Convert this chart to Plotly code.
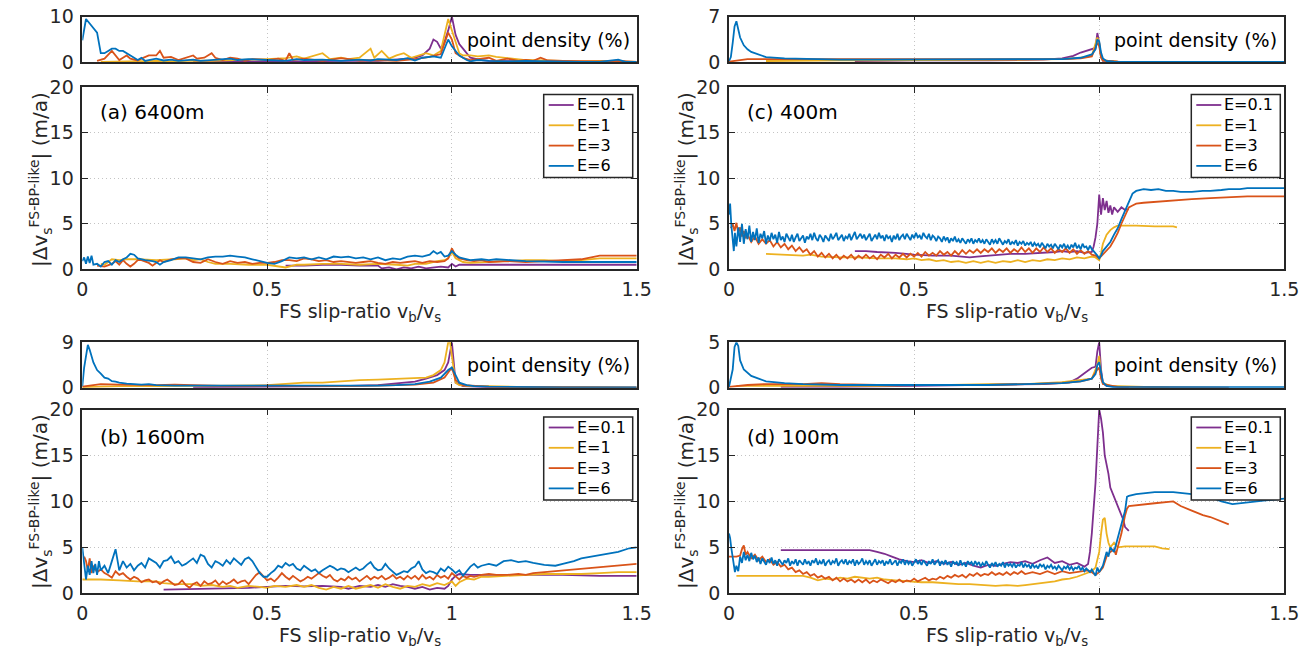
import plotly.graph_objects as go

# ---------------- data: (slip-ratio, value) pairs ----------------
# Panel (a) 6400m, main
a_E01 = [(0.55,0.4),(0.6,0.4),(0.65,0.5),(0.7,0.5),(0.75,0.4),(0.8,0.4),(0.81,0.1),(0.83,0.2),(0.85,0.0),(0.87,0.2),(0.89,0.1),(0.91,0.3),(0.93,0.1),(0.95,0.2),(0.97,0.3),(0.99,0.2),(1.0,0.6),(1.01,0.3),(1.02,0.5),(1.05,0.5),(1.1,0.5),(1.2,0.5),(1.3,0.5),(1.4,0.5),(1.5,0.5)]
a_E1 = [(0.05,0.6),(0.06,0.5),(0.07,0.8),(0.08,1.1),(0.1,1.0),(0.12,1.1),(0.15,1.1),(0.2,1.0),(0.25,1.1),(0.28,1.2),(0.3,1.0),(0.32,1.1),(0.34,0.8),(0.36,0.6),(0.4,0.6),(0.45,0.5),(0.5,0.5),(0.52,0.4),(0.55,0.2),(0.58,0.5),(0.6,0.5),(0.65,0.6),(0.7,0.6),(0.75,0.5),(0.8,0.6),(0.85,0.5),(0.88,0.4),(0.9,0.6),(0.93,0.6),(0.96,0.9),(0.98,1.0),(0.99,1.2),(1.0,1.9),(1.01,1.2),(1.03,0.8),(1.05,0.7),(1.1,0.8),(1.15,0.9),(1.2,1.0),(1.25,1.0),(1.3,0.9),(1.35,1.0),(1.4,1.2),(1.45,1.2),(1.5,1.2)]
a_E3 = [(0.04,0.4),(0.06,0.3),(0.08,0.6),(0.09,0.9),(0.1,0.5),(0.11,1.0),(0.12,0.6),(0.13,0.3),(0.14,0.6),(0.15,1.0),(0.16,1.0),(0.18,0.7),(0.19,0.4),(0.2,0.7),(0.21,1.0),(0.22,0.8),(0.24,1.1),(0.26,1.2),(0.28,1.2),(0.3,0.8),(0.32,0.7),(0.34,1.1),(0.36,0.8),(0.38,0.6),(0.4,0.9),(0.42,0.7),(0.44,0.8),(0.46,0.6),(0.48,0.7),(0.5,0.7),(0.52,0.8),(0.54,1.0),(0.56,1.0),(0.58,0.9),(0.6,1.2),(0.62,1.1),(0.64,0.9),(0.66,1.0),(0.68,0.8),(0.7,0.9),(0.72,0.8),(0.74,0.7),(0.76,0.8),(0.78,0.9),(0.8,0.7),(0.82,0.6),(0.84,0.8),(0.86,0.7),(0.88,0.8),(0.9,0.9),(0.92,0.7),(0.94,0.9),(0.96,0.8),(0.98,0.9),(0.99,1.2),(1.0,2.3),(1.01,1.5),(1.02,1.2),(1.04,1.0),(1.06,0.9),(1.08,1.0),(1.1,0.8),(1.15,0.9),(1.2,0.8),(1.25,0.9),(1.3,1.0),(1.35,1.1),(1.4,1.5),(1.45,1.5),(1.5,1.5)]
a_E6 = [(0.0,0.9),(0.005,1.3),(0.01,0.6),(0.015,1.4),(0.02,0.7),(0.025,1.5),(0.03,0.5),(0.04,0.6),(0.05,0.3),(0.06,0.8),(0.07,0.9),(0.08,0.5),(0.09,1.0),(0.1,0.8),(0.11,1.1),(0.12,1.3),(0.13,1.7),(0.14,1.6),(0.15,1.2),(0.17,1.0),(0.19,0.9),(0.2,0.8),(0.21,0.5),(0.22,0.8),(0.24,1.0),(0.26,1.3),(0.28,1.3),(0.3,1.2),(0.32,1.1),(0.34,1.3),(0.36,1.4),(0.38,1.4),(0.4,1.5),(0.42,1.4),(0.44,1.3),(0.46,1.1),(0.48,0.9),(0.5,0.7),(0.52,0.6),(0.54,0.9),(0.56,1.3),(0.58,1.2),(0.6,1.3),(0.62,1.1),(0.64,1.3),(0.66,1.1),(0.68,1.4),(0.7,1.3),(0.72,1.4),(0.74,1.2),(0.76,1.3),(0.78,1.1),(0.8,1.3),(0.82,1.0),(0.84,1.2),(0.86,1.1),(0.88,1.4),(0.9,1.5),(0.92,1.4),(0.94,1.6),(0.95,2.0),(0.96,1.7),(0.97,1.9),(0.98,1.4),(0.99,1.5),(1.0,2.0),(1.01,1.6),(1.02,1.3),(1.03,1.2),(1.05,1.0),(1.08,1.1),(1.1,1.0),(1.12,1.1),(1.15,1.0),(1.2,0.9),(1.3,0.8),(1.4,0.8),(1.5,0.8)]
# Panel (a) point density (%)
a_d_E01 = [(0.3,0.1),(0.5,0.1),(0.6,0.2),(0.7,0.3),(0.8,0.3),(0.88,0.8),(0.9,1.0),(0.92,1.5),(0.94,3.0),(0.95,5.0),(0.96,4.5),(0.97,3.0),(0.98,4.5),(0.99,7.0),(1.0,10.0),(1.01,6.0),(1.02,4.0),(1.03,3.0),(1.05,1.0),(1.08,0.5),(1.1,0.3),(1.2,0.2),(1.3,0.1),(1.5,0.1)]
a_d_E1 = [(0.05,0.1),(0.1,0.2),(0.15,0.2),(0.2,0.3),(0.25,0.2),(0.3,0.4),(0.35,0.3),(0.4,0.4),(0.45,0.5),(0.5,0.7),(0.55,0.9),(0.58,1.3),(0.6,0.8),(0.62,1.3),(0.65,2.0),(0.67,0.7),(0.7,1.0),(0.72,0.7),(0.75,1.0),(0.78,3.0),(0.79,1.0),(0.81,2.5),(0.83,0.8),(0.85,1.5),(0.87,2.0),(0.89,1.0),(0.91,1.5),(0.93,2.0),(0.95,1.5),(0.97,2.5),(0.99,9.5),(1.0,7.0),(1.01,4.0),(1.02,2.0),(1.03,1.5),(1.05,1.5),(1.07,1.3),(1.1,1.5),(1.12,1.2),(1.14,1.0),(1.16,0.8),(1.2,0.5),(1.25,0.4),(1.3,0.3),(1.35,0.2),(1.4,0.3),(1.45,0.2),(1.5,0.1)]
a_d_E3 = [(0.04,0.3),(0.06,0.8),(0.08,2.5),(0.09,1.5),(0.1,0.5),(0.11,1.0),(0.12,1.5),(0.13,0.8),(0.15,0.4),(0.16,0.8),(0.18,1.5),(0.2,1.5),(0.21,2.5),(0.22,1.0),(0.24,1.2),(0.26,0.5),(0.28,1.0),(0.3,1.5),(0.31,0.8),(0.33,1.0),(0.35,2.0),(0.36,1.0),(0.38,0.5),(0.4,1.0),(0.42,0.8),(0.44,0.3),(0.46,0.7),(0.5,0.5),(0.53,0.8),(0.55,0.3),(0.56,2.0),(0.57,0.5),(0.6,0.8),(0.65,0.3),(0.7,0.9),(0.75,0.4),(0.8,0.5),(0.85,0.3),(0.9,0.7),(0.94,1.2),(0.97,1.8),(0.99,6.5),(1.0,5.0),(1.01,2.0),(1.03,1.0),(1.05,0.5),(1.1,1.0),(1.12,0.3),(1.15,0.8),(1.18,0.3),(1.2,0.5),(1.22,0.3),(1.24,1.0),(1.26,0.4),(1.3,0.3),(1.35,0.2),(1.4,0.2),(1.45,0.3),(1.5,0.1)]
a_d_E6 = [(0.0,4.8),(0.01,9.5),(0.02,8.5),(0.03,7.5),(0.04,6.5),(0.05,2.0),(0.06,2.0),(0.07,2.5),(0.08,3.0),(0.09,3.0),(0.1,2.5),(0.11,2.5),(0.12,2.0),(0.13,1.5),(0.14,1.0),(0.15,0.5),(0.16,1.0),(0.17,0.3),(0.18,0.5),(0.2,0.8),(0.22,0.4),(0.24,0.6),(0.26,0.3),(0.28,0.5),(0.3,0.6),(0.32,0.3),(0.35,0.5),(0.4,0.8),(0.42,0.5),(0.45,0.7),(0.5,0.5),(0.55,0.3),(0.58,0.7),(0.6,0.5),(0.65,0.6),(0.7,0.3),(0.75,0.6),(0.78,0.4),(0.8,0.7),(0.85,0.5),(0.88,0.9),(0.9,0.4),(0.92,1.0),(0.95,1.3),(0.97,1.0),(0.99,5.0),(1.0,3.5),(1.01,2.5),(1.02,1.5),(1.03,1.0),(1.04,0.5),(1.05,0.2),(1.07,0.5),(1.1,0.3),(1.15,0.2),(1.2,0.3),(1.25,0.2),(1.3,0.2),(1.35,0.1),(1.4,0.1),(1.45,0.6),(1.47,0.1),(1.5,0.1)]

# Panel (b) 1600m, main
b_E01 = [(0.22,0.4),(0.3,0.45),(0.35,0.5),(0.4,0.55),(0.45,0.6),(0.5,0.7),(0.55,0.8),(0.6,0.75),(0.65,0.8),(0.7,0.7),(0.72,0.5),(0.75,0.8),(0.78,0.7),(0.8,0.9),(0.82,0.7),(0.84,1.0),(0.86,0.8),(0.88,0.7),(0.9,0.5),(0.92,0.7),(0.94,0.4),(0.96,0.6),(0.98,0.5),(0.99,0.8),(1.0,1.5),(1.01,1.9),(1.02,2.1),(1.05,2.0),(1.08,2.0),(1.1,2.0),(1.15,2.0),(1.2,2.0),(1.3,2.0),(1.4,1.9),(1.5,1.9)]
b_E1 = [(0.0,1.5),(0.05,1.5),(0.1,1.4),(0.15,1.3),(0.2,1.3),(0.22,1.1),(0.25,1.0),(0.3,1.0),(0.32,0.8),(0.35,0.9),(0.38,0.7),(0.4,0.8),(0.42,0.6),(0.45,0.8),(0.48,0.7),(0.5,0.6),(0.52,0.8),(0.55,0.7),(0.58,0.9),(0.6,0.7),(0.62,0.9),(0.64,0.6),(0.66,0.4),(0.68,0.7),(0.7,0.5),(0.72,0.8),(0.74,0.5),(0.76,0.7),(0.78,0.9),(0.8,0.6),(0.82,1.0),(0.84,0.7),(0.86,0.5),(0.88,0.8),(0.9,0.7),(0.92,1.0),(0.94,0.8),(0.96,1.1),(0.98,0.9),(1.0,1.3),(1.01,0.8),(1.02,1.2),(1.04,1.6),(1.06,1.5),(1.08,1.8),(1.1,1.8),(1.15,1.9),(1.2,2.0),(1.25,2.1),(1.3,2.1),(1.35,2.1),(1.4,2.2),(1.45,2.3),(1.5,2.3)]
b_E3 = [(0.005,4.0),(0.01,3.5),(0.015,2.5),(0.02,3.8),(0.025,2.2),(0.03,3.0),(0.04,2.3),(0.05,2.6),(0.06,2.2),(0.07,2.0),(0.08,1.7),(0.09,2.4),(0.1,2.0),(0.11,2.2),(0.12,1.8),(0.13,1.5),(0.14,1.8),(0.15,1.6),(0.16,1.2),(0.17,1.4),(0.18,1.5),(0.19,1.2),(0.2,1.3),(0.21,1.0),(0.22,1.3),(0.23,1.5),(0.24,1.2),(0.25,0.9),(0.26,1.0),(0.27,1.4),(0.28,0.9),(0.29,0.6),(0.3,1.0),(0.31,1.2),(0.32,0.8),(0.33,1.3),(0.34,1.0),(0.35,1.1),(0.36,1.4),(0.37,0.9),(0.38,1.3),(0.39,1.0),(0.4,1.2),(0.41,1.5),(0.42,1.1),(0.43,1.3),(0.44,1.4),(0.45,1.0),(0.46,1.5),(0.47,2.0),(0.48,2.3),(0.49,1.8),(0.5,1.4),(0.51,1.6),(0.52,1.3),(0.53,1.7),(0.54,2.2),(0.55,1.8),(0.56,1.5),(0.57,1.9),(0.58,1.6),(0.59,1.3),(0.6,1.5),(0.61,1.8),(0.62,1.6),(0.63,1.9),(0.64,2.2),(0.65,1.9),(0.66,1.7),(0.67,2.0),(0.68,1.5),(0.69,1.3),(0.7,1.6),(0.71,1.4),(0.72,1.8),(0.73,1.5),(0.74,1.7),(0.75,1.3),(0.76,1.6),(0.77,1.9),(0.78,1.5),(0.79,1.8),(0.8,1.6),(0.81,1.9),(0.82,1.5),(0.83,1.7),(0.84,2.0),(0.85,1.6),(0.86,1.8),(0.87,1.5),(0.88,1.9),(0.89,1.6),(0.9,1.9),(0.91,1.5),(0.92,2.0),(0.93,1.6),(0.94,1.8),(0.95,1.5),(0.96,2.0),(0.97,1.7),(0.98,1.9),(0.99,1.6),(1.0,2.2),(1.01,1.8),(1.02,1.5),(1.03,1.9),(1.04,1.7),(1.05,1.9),(1.06,1.8),(1.08,2.0),(1.1,2.1),(1.12,2.0),(1.15,2.0),(1.18,2.1),(1.2,2.0),(1.22,2.2),(1.25,2.3),(1.28,2.4),(1.3,2.5),(1.35,2.7),(1.4,2.8),(1.45,3.0),(1.5,3.2)]
b_E6 = [(0.0,5.0),(0.005,3.5),(0.01,1.5),(0.015,3.0),(0.02,2.0),(0.025,3.5),(0.03,2.2),(0.035,3.2),(0.04,2.0),(0.045,3.5),(0.05,2.5),(0.06,3.0),(0.07,2.2),(0.08,3.5),(0.09,4.8),(0.1,2.5),(0.11,3.5),(0.12,2.8),(0.13,3.2),(0.14,2.5),(0.15,3.0),(0.16,3.3),(0.17,2.8),(0.18,3.8),(0.19,3.5),(0.2,3.3),(0.21,2.8),(0.22,3.5),(0.23,3.6),(0.24,4.0),(0.25,3.3),(0.26,3.5),(0.27,3.0),(0.28,3.2),(0.29,3.5),(0.3,3.8),(0.31,3.3),(0.32,4.2),(0.33,4.0),(0.34,3.2),(0.35,2.8),(0.36,3.5),(0.37,3.3),(0.38,3.0),(0.39,3.6),(0.4,3.2),(0.41,3.8),(0.42,3.4),(0.43,3.1),(0.44,3.7),(0.45,3.9),(0.46,3.5),(0.47,2.8),(0.48,2.2),(0.49,1.8),(0.5,1.8),(0.51,2.2),(0.52,2.5),(0.53,3.0),(0.54,2.8),(0.55,3.3),(0.56,3.0),(0.57,3.2),(0.58,2.7),(0.59,2.5),(0.6,3.0),(0.61,2.7),(0.62,2.4),(0.63,2.6),(0.64,2.2),(0.65,2.5),(0.66,2.8),(0.67,3.0),(0.68,2.8),(0.69,2.5),(0.7,2.7),(0.71,2.6),(0.72,2.3),(0.73,2.6),(0.74,2.8),(0.75,2.5),(0.76,2.7),(0.77,3.1),(0.78,3.4),(0.79,2.8),(0.8,2.5),(0.81,2.6),(0.82,3.2),(0.83,2.7),(0.84,2.4),(0.85,2.0),(0.86,2.2),(0.87,2.4),(0.88,2.3),(0.89,2.7),(0.9,2.9),(0.91,3.5),(0.92,2.6),(0.93,2.2),(0.94,2.4),(0.95,2.3),(0.96,2.1),(0.97,2.7),(0.98,2.4),(0.99,2.9),(1.0,2.6),(1.01,2.2),(1.02,2.5),(1.03,1.9),(1.04,2.4),(1.05,2.9),(1.06,3.2),(1.07,2.8),(1.08,3.0),(1.1,3.2),(1.12,3.0),(1.14,3.5),(1.16,3.6),(1.18,3.4),(1.2,3.5),(1.22,3.3),(1.25,3.1),(1.28,3.0),(1.3,3.2),(1.33,3.5),(1.35,3.8),(1.38,4.0),(1.4,4.2),(1.42,4.3),(1.45,4.5),(1.48,4.9),(1.5,5.0)]
# Panel (b) point density (%)
b_d_E01 = [(0.3,0.1),(0.5,0.2),(0.7,0.3),(0.8,0.5),(0.85,0.8),(0.9,1.2),(0.93,1.8),(0.96,2.5),(0.98,3.5),(0.99,5.0),(1.0,9.0),(1.005,5.0),(1.01,1.0),(1.03,0.3),(1.1,0.1),(1.5,0.0)]
b_d_E1 = [(0.0,0.1),(0.1,0.3),(0.2,0.3),(0.3,0.3),(0.4,0.4),(0.5,0.5),(0.55,0.8),(0.6,1.0),(0.65,1.0),(0.7,1.3),(0.75,1.5),(0.8,1.6),(0.85,1.8),(0.9,2.0),(0.93,2.0),(0.95,2.5),(0.97,3.5),(0.98,5.0),(0.99,9.0),(0.995,9.0),(1.0,6.0),(1.01,1.0),(1.02,0.5),(1.05,0.3),(1.1,0.3),(1.2,0.1),(1.5,0.0)]
b_d_E3 = [(0.0,0.2),(0.03,0.5),(0.05,0.7),(0.1,0.6),(0.15,0.5),(0.2,0.5),(0.25,0.6),(0.3,0.5),(0.35,0.4),(0.4,0.3),(0.5,0.4),(0.6,0.3),(0.7,0.3),(0.8,0.4),(0.9,0.6),(0.95,1.0),(0.98,2.0),(1.0,4.0),(1.01,1.5),(1.03,0.5),(1.1,0.2),(1.2,0.1),(1.5,0.0)]
b_d_E6 = [(0.0,0.3),(0.005,4.0),(0.015,8.5),(0.02,7.5),(0.03,5.0),(0.04,3.5),(0.05,2.8),(0.06,2.0),(0.07,1.8),(0.08,1.3),(0.09,1.2),(0.1,1.0),(0.12,0.8),(0.14,0.7),(0.16,0.6),(0.18,0.7),(0.2,0.5),(0.25,0.4),(0.3,0.4),(0.35,0.3),(0.4,0.3),(0.5,0.3),(0.6,0.3),(0.7,0.3),(0.8,0.4),(0.85,0.5),(0.9,0.7),(0.94,1.2),(0.97,2.0),(0.99,3.5),(1.0,4.0),(1.01,2.5),(1.02,1.0),(1.04,0.5),(1.06,0.3),(1.1,0.2),(1.2,0.1),(1.3,0.05),(1.5,0.05)]

# Panel (c) 400m, main
c_E01 = [(0.34,2.0),(0.37,2.0),(0.4,1.9),(0.45,1.8),(0.5,1.6),(0.55,1.5),(0.6,1.5),(0.63,1.4),(0.65,1.3),(0.67,1.4),(0.7,1.5),(0.73,1.6),(0.76,1.7),(0.8,1.7),(0.85,1.8),(0.88,1.9),(0.9,2.0),(0.92,1.9),(0.94,2.0),(0.96,1.8),(0.98,1.9),(0.985,2.5),(0.99,3.5),(0.995,5.0),(1.0,8.2),(1.005,6.0),(1.01,7.8),(1.015,6.5),(1.02,7.5),(1.025,6.2),(1.03,7.0),(1.035,6.0),(1.04,6.8),(1.05,6.3),(1.06,6.8),(1.07,6.5),(1.08,6.6)]
c_E1 = [(0.1,1.7),(0.15,1.6),(0.2,1.5),(0.22,1.6),(0.25,1.4),(0.3,1.3),(0.35,1.3),(0.4,1.2),(0.45,1.2),(0.48,1.1),(0.5,1.2),(0.52,1.0),(0.54,1.1),(0.56,0.9),(0.58,1.0),(0.6,0.8),(0.62,0.9),(0.64,0.7),(0.66,0.9),(0.68,0.7),(0.7,0.9),(0.72,0.7),(0.74,0.9),(0.76,0.8),(0.78,1.0),(0.8,0.8),(0.82,1.0),(0.84,0.9),(0.86,1.1),(0.88,1.0),(0.9,1.2),(0.92,1.1),(0.94,1.3),(0.96,1.2),(0.98,1.4),(0.99,1.3),(1.0,1.0),(1.005,1.8),(1.01,2.8),(1.02,3.8),(1.03,4.3),(1.04,4.6),(1.05,4.8),(1.07,4.8),(1.1,4.8),(1.15,4.7),(1.2,4.7),(1.21,4.6)]
c_E3 = [(0.005,4.5),(0.01,5.0),(0.015,4.2),(0.02,5.1),(0.025,4.0),(0.03,4.6),(0.035,3.6),(0.04,4.2),(0.045,3.4),(0.05,3.8),(0.06,3.0),(0.07,3.6),(0.08,2.8),(0.09,3.3),(0.1,2.8),(0.11,3.2),(0.12,2.5),(0.13,3.0),(0.14,2.4),(0.15,2.8),(0.16,2.2),(0.17,2.6),(0.18,2.0),(0.19,2.4),(0.2,1.9),(0.21,2.2),(0.22,1.6),(0.23,2.0),(0.24,1.4),(0.25,1.8),(0.26,1.3),(0.27,1.7),(0.28,1.2),(0.29,1.6),(0.3,1.1),(0.31,1.5),(0.32,1.2),(0.33,1.6),(0.34,1.1),(0.35,1.5),(0.36,1.2),(0.37,1.6),(0.38,1.2),(0.39,1.5),(0.4,1.1),(0.41,1.6),(0.42,1.3),(0.43,1.7),(0.44,1.2),(0.45,1.6),(0.46,1.3),(0.47,1.7),(0.48,1.3),(0.49,1.7),(0.5,1.4),(0.51,1.8),(0.52,1.4),(0.53,1.9),(0.54,1.5),(0.55,1.8),(0.56,1.5),(0.57,2.0),(0.58,1.6),(0.59,1.9),(0.6,1.5),(0.61,2.0),(0.62,1.6),(0.63,2.1),(0.64,1.7),(0.65,2.1),(0.66,1.8),(0.67,2.2),(0.68,1.8),(0.69,2.2),(0.7,1.9),(0.71,2.3),(0.72,1.8),(0.73,2.2),(0.74,1.9),(0.75,2.3),(0.76,1.8),(0.77,2.2),(0.78,1.9),(0.79,2.4),(0.8,1.9),(0.81,2.3),(0.82,1.8),(0.83,2.3),(0.84,1.9),(0.85,2.4),(0.86,1.9),(0.87,2.3),(0.88,1.8),(0.89,2.2),(0.9,1.9),(0.91,2.3),(0.92,1.8),(0.93,2.2),(0.94,1.7),(0.95,2.1),(0.96,1.7),(0.97,2.0),(0.98,1.6),(0.99,1.5),(1.0,1.2),(1.01,1.6),(1.02,2.0),(1.03,2.5),(1.04,3.2),(1.05,4.0),(1.06,5.0),(1.07,6.0),(1.08,6.8),(1.09,7.0),(1.1,7.2),(1.12,7.3),(1.15,7.4),(1.2,7.6),(1.25,7.7),(1.3,7.8),(1.35,7.9),(1.4,8.0),(1.45,8.0),(1.5,8.0)]
# E=6 in (c): start, dense noisy section sampled every 0.005 from 0.02 to 0.98, then the rise
c_E6_start = [(0.0,6.0),(0.003,7.2),(0.006,5.0),(0.01,3.0),(0.013,2.0),(0.016,4.0)]
c_E6_dense = [2.5,4.6,3.0,5.0,2.8,4.4,3.3,4.8,3.0,4.1, 3.2,4.5,2.9,3.9,3.4,4.2,2.8,3.7,3.1,4.0,
              3.3,3.8,2.9,4.1,3.2,3.6,3.0,3.9,3.4,3.1, 3.8,3.0,3.5,3.9,3.1,3.4,3.7,2.9,3.6,3.3,
              3.9,3.2,4.0,3.4,3.1,3.8,3.5,3.0,3.7,3.4, 3.1,3.9,3.3,3.6,4.0,3.2,3.5,3.8,3.1,3.6,
              3.4,3.9,3.2,3.7,4.1,3.3,3.6,3.9,3.4,3.8, 3.2,3.6,3.9,3.1,3.5,3.8,3.3,4.0,3.4,3.7,
              3.1,3.8,3.4,3.6,3.0,3.7,3.3,3.9,3.2,3.6, 3.8,3.3,3.9,3.5,3.2,3.8,3.4,4.0,3.5,3.7,
              3.3,4.0,3.6,3.4,3.9,3.2,3.7,3.5,3.1,3.6, 3.4,3.0,3.6,3.2,3.5,2.9,3.4,3.1,3.6,3.0,
              3.3,2.9,3.4,3.1,2.8,3.3,3.0,3.4,2.8,3.2, 3.0,3.4,2.9,3.2,2.8,3.3,3.0,2.7,3.3,2.9,
              3.2,2.8,3.4,3.0,2.7,3.1,2.9,3.3,2.7,3.0, 2.8,3.2,2.6,3.0,2.8,3.1,2.6,2.9,2.7,3.0,
              2.5,2.9,2.6,2.8,2.4,2.9,2.6,2.3,2.8,2.5, 2.7,2.3,2.8,2.5,2.2,2.7,2.4,2.8,2.3,2.6,
              2.2,2.7,2.4,2.9,2.3,2.6,2.2,2.8,2.4,2.5, 2.1,2.6,2.2]
c_E6_end = [(0.985,2.0),(0.99,1.8),(0.995,1.5),(1.0,1.2),(1.005,1.5),(1.01,2.0),(1.02,2.5),(1.03,3.0),(1.04,3.8),(1.05,4.5),(1.06,5.5),(1.07,6.5),(1.08,7.5),(1.09,8.3),(1.1,8.6),(1.12,8.8),(1.14,8.7),(1.16,8.8),(1.18,8.6),(1.2,8.6),(1.22,8.5),(1.25,8.5),(1.28,8.6),(1.3,8.6),(1.33,8.7),(1.35,8.8),(1.38,8.8),(1.4,8.9),(1.45,8.9),(1.5,8.9)]
# Panel (c) point density (%)
c_d_E01 = [(0.34,0.2),(0.5,0.3),(0.7,0.3),(0.85,0.4),(0.9,0.6),(0.93,1.0),(0.95,1.5),(0.97,1.8),(0.98,2.0),(0.99,2.2),(0.995,4.5),(1.0,3.0),(1.005,0.8),(1.01,0.2),(1.08,0.0)]
c_d_E1 = [(0.1,0.2),(0.2,0.3),(0.3,0.3),(0.4,0.3),(0.5,0.3),(0.6,0.3),(0.7,0.3),(0.8,0.4),(0.9,0.5),(0.95,0.7),(0.98,1.0),(0.995,3.8),(1.0,3.0),(1.005,0.8),(1.01,0.3),(1.05,0.1),(1.2,0.0)]
c_d_E3 = [(0.0,0.1),(0.02,0.3),(0.05,0.5),(0.1,0.5),(0.2,0.5),(0.3,0.5),(0.4,0.4),(0.5,0.4),(0.6,0.4),(0.7,0.4),(0.8,0.4),(0.9,0.5),(0.95,0.6),(0.98,0.9),(0.995,3.0),(1.0,2.5),(1.005,0.8),(1.01,0.3),(1.05,0.1),(1.2,0.05),(1.5,0.0)]
c_d_E6 = [(0.0,0.2),(0.005,0.8),(0.01,3.0),(0.015,5.5),(0.02,6.3),(0.025,5.0),(0.03,3.8),(0.04,2.6),(0.05,2.0),(0.06,1.6),(0.08,1.2),(0.1,0.8),(0.15,0.6),(0.2,0.5),(0.3,0.4),(0.4,0.4),(0.5,0.4),(0.6,0.4),(0.7,0.4),(0.8,0.4),(0.9,0.5),(0.95,0.7),(0.98,1.2),(0.99,2.0),(0.995,3.5),(1.0,3.2),(1.005,1.5),(1.01,0.6),(1.02,0.2),(1.04,0.1),(1.1,0.05),(1.5,0.05)]

# Panel (d) 100m, main
d_E01 = [(0.14,4.7),(0.2,4.7),(0.25,4.7),(0.3,4.7),(0.35,4.7),(0.38,4.7),(0.4,4.5),(0.42,4.3),(0.44,4.0),(0.46,3.7),(0.48,3.5),(0.5,3.4),(0.52,3.6),(0.54,3.3),(0.56,3.5),(0.58,3.2),(0.6,3.4),(0.62,3.1),(0.64,3.3),(0.66,3.0),(0.68,2.8),(0.7,3.1),(0.72,3.0),(0.74,3.2),(0.76,3.4),(0.78,3.3),(0.8,3.5),(0.82,3.2),(0.84,3.6),(0.86,3.9),(0.88,3.3),(0.9,3.5),(0.92,3.1),(0.94,3.3),(0.96,2.9),(0.97,3.2),(0.975,4.5),(0.98,6.5),(0.985,9.0),(0.99,12.0),(0.995,16.0),(1.0,20.0),(1.005,19.0),(1.01,17.5),(1.015,15.0),(1.02,14.0),(1.025,13.0),(1.03,11.5),(1.04,10.5),(1.045,10.0),(1.05,9.5),(1.06,8.5),(1.065,8.0),(1.07,7.2),(1.08,6.8)]
d_E1 = [(0.02,1.9),(0.1,1.9),(0.2,1.9),(0.22,1.7),(0.24,1.4),(0.26,1.6),(0.28,1.5),(0.3,1.7),(0.32,1.6),(0.34,1.8),(0.36,1.7),(0.38,1.6),(0.4,1.7),(0.42,1.5),(0.45,1.4),(0.48,1.3),(0.5,1.3),(0.52,1.2),(0.55,1.2),(0.58,1.1),(0.6,1.1),(0.62,1.0),(0.65,1.0),(0.68,0.9),(0.7,0.9),(0.72,0.8),(0.75,0.9),(0.78,0.8),(0.8,0.9),(0.82,1.0),(0.85,1.1),(0.88,1.3),(0.9,1.5),(0.92,1.6),(0.94,1.8),(0.96,2.1),(0.98,2.4),(0.99,2.8),(1.0,4.5),(1.005,6.5),(1.01,8.0),(1.015,8.2),(1.02,6.5),(1.025,5.5),(1.03,5.0),(1.04,5.5),(1.05,5.0),(1.07,5.1),(1.1,5.1),(1.15,5.1),(1.17,4.9),(1.19,4.8)]
d_E3 = [(0.0,4.0),(0.02,4.0),(0.03,4.1),(0.035,4.8),(0.04,5.2),(0.045,4.2),(0.05,4.5),(0.06,3.8),(0.07,4.2),(0.08,3.6),(0.09,4.0),(0.1,3.4),(0.11,3.7),(0.12,3.1),(0.13,3.4),(0.14,2.9),(0.15,3.1),(0.16,2.6),(0.17,2.8),(0.18,2.3),(0.19,2.5),(0.2,2.1),(0.21,2.3),(0.22,1.9),(0.23,2.1),(0.24,1.7),(0.25,1.9),(0.26,1.6),(0.27,1.8),(0.28,1.4),(0.29,1.7),(0.3,1.3),(0.31,1.6),(0.32,1.3),(0.33,1.5),(0.34,1.2),(0.35,1.5),(0.36,1.2),(0.37,1.5),(0.38,1.1),(0.39,1.4),(0.4,1.2),(0.41,1.5),(0.42,1.3),(0.43,1.1),(0.44,1.4),(0.45,1.2),(0.46,1.5),(0.47,1.2),(0.48,1.4),(0.49,1.3),(0.5,1.6),(0.51,1.3),(0.52,1.5),(0.53,1.7),(0.54,1.4),(0.55,1.6),(0.56,1.5),(0.57,1.8),(0.58,1.6),(0.59,1.9),(0.6,1.7),(0.61,2.0),(0.62,1.8),(0.63,2.0),(0.64,1.7),(0.65,2.1),(0.66,1.9),(0.67,2.2),(0.68,1.9),(0.69,2.1),(0.7,2.0),(0.71,2.3),(0.72,2.0),(0.73,2.2),(0.74,2.0),(0.75,2.3),(0.76,2.0),(0.77,2.3),(0.78,2.1),(0.79,2.4),(0.8,2.1),(0.82,2.3),(0.84,2.1),(0.86,2.4),(0.88,2.1),(0.9,2.4),(0.92,2.2),(0.95,2.4),(0.97,2.5),(0.98,2.3),(0.99,2.0),(1.0,2.3),(1.01,2.8),(1.02,4.0),(1.03,4.5),(1.04,4.8),(1.045,4.2),(1.05,5.0),(1.06,6.5),(1.07,8.5),(1.075,9.2),(1.08,9.5),(1.1,9.6),(1.15,9.8),(1.2,10.0),(1.22,9.5),(1.25,9.0),(1.28,8.5),(1.3,8.3),(1.33,7.8),(1.35,7.5)]
# E=6 in (d): start, dense noisy section sampled every 0.005 from 0.02 to 0.98, then the rise
d_E6_start = [(0.0,6.5),(0.003,6.0),(0.006,5.0),(0.01,4.0),(0.013,3.0),(0.016,2.3)]
d_E6_dense = [3.0,2.4,4.0,3.3,4.5,3.6,4.2,3.5,4.4,3.7, 4.1,3.4,3.9,3.2,3.8,3.5,3.1,3.7,3.3,3.9,
              3.2,3.6,3.0,3.7,3.4,3.1,3.6,3.3,3.8,3.0, 3.5,3.2,3.7,3.0,3.6,3.3,3.1,3.7,3.2,3.5,
              3.0,3.6,3.3,3.8,3.1,3.5,3.2,3.7,3.0,3.4, 3.6,3.1,3.5,3.3,3.8,3.0,3.4,3.6,3.2,3.7,
              3.1,3.5,3.3,3.7,3.0,3.6,3.2,3.4,3.8,3.1, 3.5,3.2,3.6,3.0,3.4,3.7,3.1,3.5,3.3,3.6,
              3.0,3.5,3.2,3.7,3.1,3.4,3.6,3.0,3.5,3.3, 3.7,3.1,3.6,3.2,3.5,3.0,3.4,3.7,3.2,3.5,
              3.1,3.6,3.3,3.0,3.5,3.2,3.7,3.1,3.4,3.6, 3.0,3.5,3.2,3.6,3.1,3.4,2.9,3.5,3.2,3.4,
              3.0,3.6,3.1,3.3,2.9,3.5,3.2,3.4,3.0,3.5, 3.1,3.4,2.9,3.3,3.0,3.5,3.1,2.8,3.3,3.0,
              3.4,2.9,3.2,3.0,3.4,2.8,3.3,3.0,3.2,2.9, 3.3,2.8,3.1,3.0,3.4,2.8,3.2,2.9,3.1,2.7,
              3.2,2.8,3.0,2.7,3.2,2.9,3.1,2.6,3.0,2.8, 3.1,2.7,2.9,2.6,3.0,2.8,2.5,2.9,2.7,3.0,
              2.6,2.9,2.5,2.8,2.7,3.0,2.5,2.8,2.4,2.7, 2.5,2.3,2.6]
d_E6_end = [(0.985,2.2),(0.99,1.9),(0.995,2.8),(1.0,2.3),(1.01,3.0),(1.02,4.5),(1.025,4.0),(1.03,5.0),(1.04,4.5),(1.05,6.0),(1.06,7.5),(1.07,9.0),(1.075,10.5),(1.08,10.6),(1.1,10.8),(1.15,11.0),(1.2,11.0),(1.25,10.8),(1.3,10.5),(1.33,10.0),(1.36,9.7),(1.4,9.9),(1.45,10.1),(1.5,10.3)]
# Panel (d) point density (%)
d_d_E01 = [(0.14,0.1),(0.3,0.1),(0.5,0.2),(0.7,0.3),(0.85,0.4),(0.92,0.6),(0.94,1.0),(0.96,1.6),(0.97,1.9),(0.98,2.2),(0.99,2.3),(0.995,4.0),(1.0,5.0),(1.005,2.0),(1.01,0.5),(1.02,0.2),(1.08,0.0)]
d_d_E1 = [(0.02,0.2),(0.1,0.2),(0.2,0.2),(0.3,0.2),(0.4,0.2),(0.5,0.3),(0.6,0.3),(0.7,0.4),(0.8,0.4),(0.9,0.6),(0.95,0.8),(0.98,1.0),(0.995,2.5),(1.0,3.5),(1.005,1.5),(1.01,0.5),(1.03,0.2),(1.1,0.1),(1.19,0.0)]
d_d_E3 = [(0.0,0.1),(0.05,0.3),(0.1,0.4),(0.15,0.4),(0.2,0.4),(0.25,0.5),(0.3,0.4),(0.4,0.3),(0.5,0.3),(0.6,0.3),(0.7,0.3),(0.8,0.4),(0.9,0.5),(0.95,0.7),(0.98,1.0),(0.995,2.0),(1.0,2.2),(1.005,1.0),(1.01,0.4),(1.05,0.1),(1.35,0.0)]
d_d_E6 = [(0.0,0.1),(0.01,2.0),(0.015,4.5),(0.02,5.0),(0.025,4.6),(0.03,3.0),(0.04,2.0),(0.05,1.6),(0.06,1.3),(0.08,1.0),(0.1,0.7),(0.15,0.5),(0.2,0.4),(0.3,0.3),(0.4,0.3),(0.5,0.3),(0.6,0.3),(0.7,0.3),(0.8,0.4),(0.9,0.5),(0.95,0.7),(0.98,1.0),(0.99,1.5),(0.995,2.5),(1.0,2.8),(1.005,1.5),(1.01,0.6),(1.02,0.2),(1.04,0.05),(1.5,0.05)]

DENSE_X0 = 0.02      # first slip-ratio of the dense E=6 sections
DENSE_STEP = 0.005   # sampling step of the dense E=6 sections

series_names = ["E=0.1", "E=1", "E=3", "E=6"]
panel_labels = ["(a) 6400m", "(b) 1600m", "(c) 400m", "(d) 100m"]
density_max = [10, 9, 7, 5]
x_ticks = [0, 0.5, 1, 1.5]
x_ticktext = ["0", "0.5", "1", "1.5"]
y_ticks_main = [0, 5, 10, 15, 20]


def with_dense(start, dense, end):
    dense_pairs = [(round(DENSE_X0 + DENSE_STEP * i, 3), v) for i, v in enumerate(dense)]
    return start + dense_pairs + end


c_E6 = with_dense(c_E6_start, c_E6_dense, c_E6_end)
d_E6 = with_dense(d_E6_start, d_E6_dense, d_E6_end)

main_data = [[a_E01, a_E1, a_E3, a_E6], [b_E01, b_E1, b_E3, b_E6],
             [c_E01, c_E1, c_E3, c_E6], [d_E01, d_E1, d_E3, d_E6]]
dens_data = [[a_d_E01, a_d_E1, a_d_E3, a_d_E6], [b_d_E01, b_d_E1, b_d_E3, b_d_E6],
             [c_d_E01, c_d_E1, c_d_E3, c_d_E6], [d_d_E01, d_d_E1, d_d_E3, d_d_E6]]

# ---------------- styling / layout ----------------
COLORS = ["#7E2F8E", "#EDB120", "#D95319", "#0072BD"]
FONT = "DejaVu Sans"
AX_COLOR = "#262626"
LW = 1.8
W, H = 1312, 656


def px_x(p):
    return p / W


def px_y(p):
    return 1 - p / H


X_LEFT = [82.3, 729.0]
X_RIGHT = [636.7, 1284.3]
DENS_TOP = [16.7, 342.3]
DENS_BOT = [62.3, 387.7]
MAIN_TOP = [87.0, 409.5]
MAIN_BOT = [269.3, 593.3]
POS = [(0, 0), (0, 1), (1, 0), (1, 1)]   # (col, row) of panels a, b, c, d

fig = go.Figure()
layout = dict(width=W, height=H, margin=dict(l=0, r=0, t=0, b=0, autoexpand=False),
              paper_bgcolor="white", plot_bgcolor="white", showlegend=False)
annotations = []
shapes = []


def axis_common():
    return dict(showline=True, linecolor=AX_COLOR, linewidth=1.5, mirror="ticks",
                ticks="inside", tickcolor=AX_COLOR, tickwidth=1.2,
                zeroline=False, showgrid=True, gridcolor="#c4c4c4", griddash="1px,3px", gridwidth=1,
                tickfont=dict(family=FONT, size=19, color=AX_COLOR))


for p in range(4):
    col, row = POS[p]
    nd = 2 * p + 1
    nm = 2 * p + 2
    xl, xr = X_LEFT[col], X_RIGHT[col]

    xa = axis_common()
    xa.update(domain=[px_x(xl), px_x(xr)], range=[0, 1.5], tickvals=x_ticks, showticklabels=False,
              anchor=f"y{nd}", ticklen=4)
    ya = axis_common()
    ya.update(domain=[px_y(DENS_BOT[row]), px_y(DENS_TOP[row])], range=[0, density_max[p]],
              tickvals=[0, density_max[p]], anchor=f"x{nd}", ticklen=4, showgrid=False,
              ticklabelstandoff=3)
    layout[f"xaxis{nd}"] = xa
    layout[f"yaxis{nd}"] = ya

    xa = axis_common()
    xa.update(domain=[px_x(xl), px_x(xr)], range=[0, 1.5], tickvals=x_ticks, ticktext=x_ticktext,
              anchor=f"y{nm}", ticklen=6, ticklabelstandoff=2)
    ya = axis_common()
    ya.update(domain=[px_y(MAIN_BOT[row]), px_y(MAIN_TOP[row])], range=[0, 20], tickvals=y_ticks_main,
              anchor=f"x{nm}", ticklen=6, ticklabelstandoff=3)
    layout[f"xaxis{nm}"] = xa
    layout[f"yaxis{nm}"] = ya

    for s in range(4):
        xs, ys = zip(*dens_data[p][s])
        fig.add_trace(go.Scatter(x=list(xs), y=list(ys), mode="lines",
                                 line=dict(color=COLORS[s], width=LW),
                                 xaxis=f"x{nd}", yaxis=f"y{nd}", hoverinfo="skip"))
    for s in range(4):
        xs, ys = zip(*main_data[p][s])
        fig.add_trace(go.Scatter(x=list(xs), y=list(ys), mode="lines", name=series_names[s],
                                 line=dict(color=COLORS[s], width=LW),
                                 xaxis=f"x{nm}", yaxis=f"y{nm}"))

    # legend box (drawn on top of the curves)
    lb_r = xr - 4
    lb_l = lb_r - 89
    lb_t = MAIN_TOP[row] + 7.5
    lb_b = lb_t + 83
    shapes.append(dict(type="rect", xref="paper", yref="paper", layer="above",
                       x0=px_x(lb_l), x1=px_x(lb_r), y0=px_y(lb_b), y1=px_y(lb_t),
                       fillcolor="white", line=dict(color=AX_COLOR, width=1.5)))
    for s in range(4):
        yy = lb_t + 10.5 + 20.3 * s
        shapes.append(dict(type="line", xref="paper", yref="paper", layer="above",
                           x0=px_x(lb_l + 5), x1=px_x(lb_l + 30), y0=px_y(yy), y1=px_y(yy),
                           line=dict(color=COLORS[s], width=LW)))
        annotations.append(dict(text=series_names[s], x=px_x(lb_l + 31), y=px_y(yy),
                                xref="paper", yref="paper", xanchor="left", yanchor="middle",
                                showarrow=False, font=dict(family=FONT, size=16, color="black")))

    # panel label
    annotations.append(dict(text=panel_labels[p], x=px_x(xl + 16), y=px_y([112, 437][row]),
                            xref="paper", yref="paper", xanchor="left", yanchor="middle",
                            showarrow=False, font=dict(family=FONT, size=20, color="black")))
    # density label
    annotations.append(dict(text="point density (%)", x=px_x(xr - 5), y=px_y([40, 365][row]),
                            xref="paper", yref="paper", xanchor="right", yanchor="middle",
                            showarrow=False, font=dict(family=FONT, size=19, color="black")))
    # x title
    annotations.append(dict(text="FS slip-ratio v<sub>b</sub>/v<sub>s</sub>", x=px_x((xl + xr) / 2),
                            y=px_y([312, 636][row]), xref="paper", yref="paper",
                            xanchor="center", yanchor="middle", showarrow=False,
                            font=dict(family=FONT, size=19, color=AX_COLOR)))
    # y title
    annotations.append(dict(text="|Δv<sub>s</sub><sup>FS-BP-like</sup>| (m/a)",
                            x=px_x([40, 686][col]), y=px_y([180, 502][row]),
                            xref="paper", yref="paper", xanchor="center", yanchor="middle",
                            textangle=-90, showarrow=False,
                            font=dict(family=FONT, size=20, color=AX_COLOR)))

layout["annotations"] = annotations
layout["shapes"] = shapes
fig.update_layout(**layout)
fig.write_html("out.html")
